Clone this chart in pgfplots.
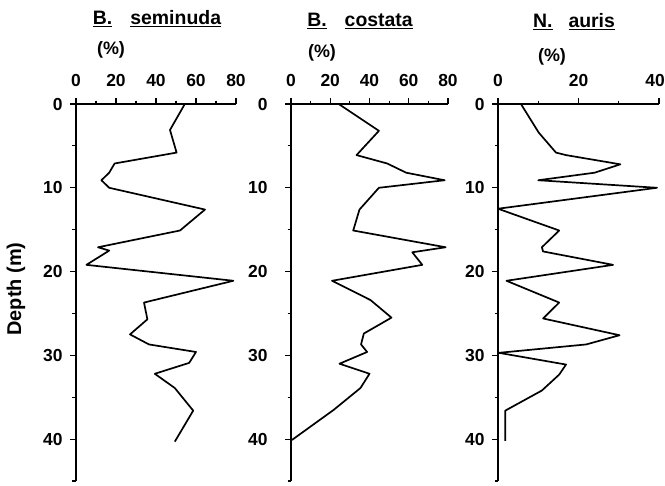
\documentclass[border=0pt]{standalone}
\usepackage{fontspec}
\setmainfont{Liberation Sans}
\usepackage{pgfplots}
\pgfplotsset{compat=1.18}
\pgfplotsset{
  core/.style={
    scale only axis, height=377bp,
    ymin=0, ymax=45, y dir=reverse,
    axis x line=top, axis y line=left,
    axis line style={-, line width=1.5bp},
    every tick/.style={black, line width=1.2bp},
    tick align=outside,
    major tick length=6bp, minor tick length=3.5bp,
    ytick={0,10,20,30,40}, minor ytick={5,15,25,35,45},
    tick label style={font=\fontsize{17.5}{17.5}\selectfont\bfseries},
    xticklabel style={yshift=8bp},
    yticklabel style={xshift=-4bp},
    /pgf/number format/assume math mode=true,
    clip=false,
  },
  dat/.style={black, line width=1.7bp, line join=round},
}
\begin{document}
\begin{tikzpicture}
\path[use as bounding box] (0,0) rectangle (665bp,486bp);

\begin{axis}[core, at={(76bp,5bp)}, anchor=south west, width=160bp,
  xmin=0, xmax=80, xtick={0,20,40,60,80}, minor xtick={10,30,50,70}]
\addplot[dat] table {
x y
54.4 0
47 3.1
50.3 5.8
19.3 7.1
16.6 8.2
12.7 9.1
16.6 10
64.5 12.6
52 15.1
11 17.1
16.6 17.5
5.2 19.2
78.7 21.1
34 23.7
35.7 25.7
27 27.5
36.5 28.7
60 29.6
56.6 30.9
39.4 32.2
49.4 33.9
58.6 36.6
49.4 40.3
};
\end{axis}

\begin{axis}[core, at={(291bp,5bp)}, anchor=south west, width=157bp,
  xmin=0, xmax=80, xtick={0,20,40,60,80}, minor xtick={10,30,50,70},
  yticklabel style={xshift=-10bp}]
\addplot[dat] table {
x y
24.3 0
44.8 3.2
33.4 6.1
49 7.1
58.7 8.2
78.3 9.1
44.8 10
34.9 12.6
31.7 15.1
78.8 17.1
61.8 17.7
66.9 19.2
20.9 21.1
40.5 23.4
51.2 25.5
37.1 27.4
35.7 28.7
38.8 29.6
24.7 31.0
40 32.2
35.4 33.9
21.8 36.5
0.5 40.1
};
\end{axis}

\begin{axis}[core, at={(498bp,5bp)}, anchor=south west, width=161bp,
  xmin=0, xmax=40, xtick={0,20,40}, minor xtick={10,30},
  xticklabels={0,20,\makebox[0pt][c]{\hspace*{-8bp}40}}]
\addplot[dat] table {
x y
5.7 0
10.1 3.4
14.4 5.8
16.9 6.1
30.4 7.2
24 8.2
10 9.1
39.5 10
0 12.5
15.2 15.1
10.9 17.1
11.2 17.6
28.6 19.2
2.1 21.1
15.2 23.7
11.2 25.6
30.2 27.6
21.9 28.7
0.2 29.7
16.9 31.1
15.2 32.3
10.9 34.2
1.8 36.6
1.8 38
1.8 40.2
};
\end{axis}

\begin{scope}[every node/.style={inner sep=0pt}]
\node[font=\fontsize{19.5}{19.5}\selectfont\bfseries, anchor=base] at (157bp,461bp) {\underline{B.}\hspace{18bp}\underline{seminuda}};
\node[font=\fontsize{19.5}{19.5}\selectfont\bfseries, anchor=base] at (360bp,459bp) {\underline{B.}\hspace{18bp}\underline{costata}};
\node[font=\fontsize{19.5}{19.5}\selectfont\bfseries, anchor=base] at (574bp,458bp) {\underline{N.}\hspace{16bp}\underline{auris}};
\node[font=\fontsize{18}{18}\selectfont\bfseries] at (111bp,436bp) {(\%)};
\node[font=\fontsize{18}{18}\selectfont\bfseries] at (322bp,433bp) {(\%)};
\node[font=\fontsize{18}{18}\selectfont\bfseries] at (552bp,429bp) {(\%)};
\node[font=\fontsize{20}{20}\selectfont\bfseries, rotate=90] at (16bp,197bp) {Depth (m)};
\end{scope}
\end{tikzpicture}
\end{document}
